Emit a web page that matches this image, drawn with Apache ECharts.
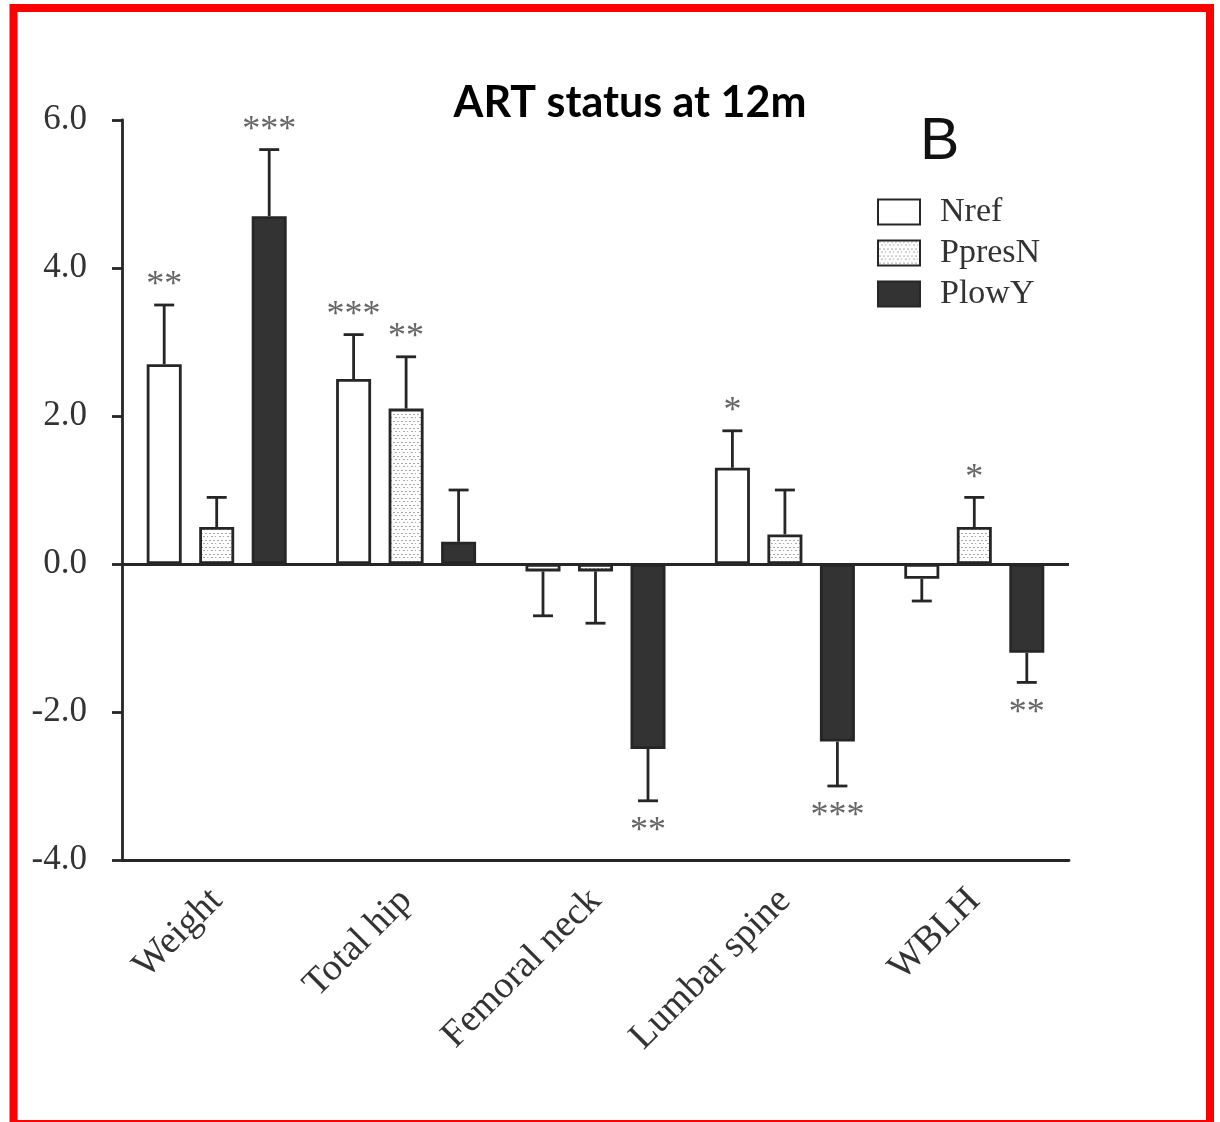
<!DOCTYPE html>
<html>
<head>
<meta charset="utf-8">
<script src="https://cdn.jsdelivr.net/npm/echarts@6/dist/echarts.min.js"></script>
<style>
  html, body { margin: 0; padding: 0; background: #fff; }
  #main { width: 1220px; height: 1122px; }
</style>
</head>
<body>
<div id="main"></div>
<script>
// categories and group names
const sites = ['Weight', 'Total hip', 'Femoral neck', 'Lumbar spine', 'WBLH'];
const groups = ['Nref', 'PpresN', 'PlowY'];

// mean % change
const nrefVals = [2.7, 2.5, -0.1, 1.3, -0.2];
const ppresVals = [0.5, 2.1, -0.1, 0.4, 0.5];
const plowVals = [4.7, 0.3, -2.5, -2.4, -1.2];

// standard errors (drawn away from zero)
const nrefSE = [0.8, 0.6, 0.6, 0.5, 0.3];
const ppresSE = [0.4, 0.7, 0.7, 0.6, 0.4];
const plowSE = [0.9, 0.7, 0.7, 0.6, 0.4];

// significance marks
const nrefSig = ['**', '***', '', '*', ''];
const ppresSig = ['', '**', '', '', '*'];
const plowSig = ['***', '', '**', '***', '**'];

const yTicks = [-4, -2, 0, 2, 4, 6];

const allVals = [nrefVals, ppresVals, plowVals];
const allSE = [nrefSE, ppresSE, plowSE];
const allSig = [nrefSig, ppresSig, plowSig];

const ink = '#262626';
const barW = 35;
const lw = 2.8;

// dotted fill for PpresN
function dotPattern() {
    let cv = document.createElement('canvas');
    cv.width = 8;
    cv.height = 7;
    let ctx = cv.getContext('2d');
    ctx.fillStyle = '#ffffff';
    ctx.fillRect(0, 0, 8, 7);
    ctx.fillStyle = '#a8a8a8';
    ctx.fillRect(1, 1, 2, 1);
    ctx.fillRect(5, 1, 2, 1);
    ctx.fillRect(3, 4, 2, 1);
    ctx.fillRect(7, 4, 1, 1);
    return cv;
}

const fills = ['#ffffff', { image: dotPattern(), repeat: 'repeat' }, '#333333'];

let errData = [];
for (let s = 0; s < 3; s++) {
    for (let i = 0; i < sites.length; i++) {
        errData.push([i, allVals[s][i], allSE[s][i], allSig[s][i], s]);
    }
}

let myChart = echarts.init(document.getElementById('main'));

let barSeries = groups.map((g, s) => ({
    name: g,
    type: 'bar',
    barWidth: barW,
    barGap: '50%',
    data: allVals[s],
    itemStyle: {
        color: fills[s],
        borderColor: ink,
        borderWidth: lw
    },
    z: 3
}));

let option = {
    animation: false,
    title: {
        text: 'ART status at 12m',
        left: 625,
        top: 77,
        textAlign: 'center',
        textStyle: {
            fontFamily: 'Lato',
            fontWeight: 'bold',
            fontSize: 43,
            color: '#000'
        }
    },
    legend: {
        data: groups,
        orient: 'vertical',
        left: 872,
        top: 190,
        itemWidth: 42,
        itemHeight: 25,
        itemGap: 7,
        icon: 'rect',
        textStyle: {
            fontFamily: 'Liberation Serif',
            fontSize: 34,
            lineHeight: 33,
            color: '#333',
            padding: [0, 0, 0, 15]
        }
    },
    graphic: [
        {
            type: 'text',
            left: 920,
            top: 113,
            style: {
                text: 'B',
                fontFamily: 'Liberation Sans',
                fontSize: 59,
                fill: '#111'
            }
        },
        {
            type: 'rect',
            shape: { x: 13.5, y: 8, width: 1196.5, height: 1116 },
            style: { fill: 'none', stroke: '#ff0000', lineWidth: 8 },
            z: 100
        }
    ],
    grid: {
        left: 122,
        right: 151,
        top: 120,
        bottom: 262,
        containLabel: false
    },
    xAxis: {
        type: 'category',
        data: sites,
        axisLine: { onZero: false, lineStyle: { color: ink, width: lw } },
        axisTick: { alignWithLabel: true, length: 10, lineStyle: { color: ink, width: lw } },
        axisLabel: {
            rotate: 45,
            margin: 35,
            fontFamily: 'Liberation Serif',
            fontSize: 38,
            color: '#333'
        }
    },
    yAxis: {
        type: 'value',
        min: yTicks[0],
        max: yTicks[yTicks.length - 1],
        interval: 2,
        splitLine: { show: false },
        axisLine: { show: true, lineStyle: { color: ink, width: lw } },
        axisTick: { show: true, length: 10, lineStyle: { color: ink, width: lw } },
        axisLabel: {
            margin: 35,
            fontFamily: 'Liberation Serif',
            fontSize: 35,
            color: '#333',
            formatter: v => v.toFixed(1)
        }
    },
    series: barSeries.concat([{
        type: 'custom',
        z: 4,
        data: errData,
        markLine: {
            silent: true,
            symbol: 'none',
            label: { show: false },
            lineStyle: { color: ink, width: lw, type: 'solid' },
            data: [{ yAxis: 0 }]
        },
        renderItem: function (params, api) {
            let i = api.value(0);
            let v = api.value(1);
            let se = api.value(2);
            let s = api.value(4);
            let sig = errData[params.dataIndex][3];
            let dir = v >= 0 ? 1 : -1;
            let base = api.coord([i, v]);
            let tip = api.coord([i, v + dir * se]);
            let x = base[0] + (s - 1) * barW * 1.5;
            let half = 10;
            let children = [
                {
                    type: 'line',
                    shape: { x1: x, y1: base[1], x2: x, y2: tip[1] },
                    style: { stroke: ink, lineWidth: lw }
                },
                {
                    type: 'line',
                    shape: { x1: x - half, y1: tip[1], x2: x + half, y2: tip[1] },
                    style: { stroke: ink, lineWidth: lw }
                }
            ];
            if (sig) {
                children.push({
                    type: 'text',
                    x: x,
                    y: dir > 0 ? tip[1] - 1 : tip[1] + 13,
                    style: {
                        text: sig,
                        fontFamily: 'Liberation Serif',
                        fontSize: 36,
                        fill: '#666',
                        align: 'center',
                        verticalAlign: dir > 0 ? 'bottom' : 'top'
                    }
                });
            }
            return { type: 'group', children: children };
        }
    }])
};

myChart.setOption(option);
</script>
</body>
</html>
